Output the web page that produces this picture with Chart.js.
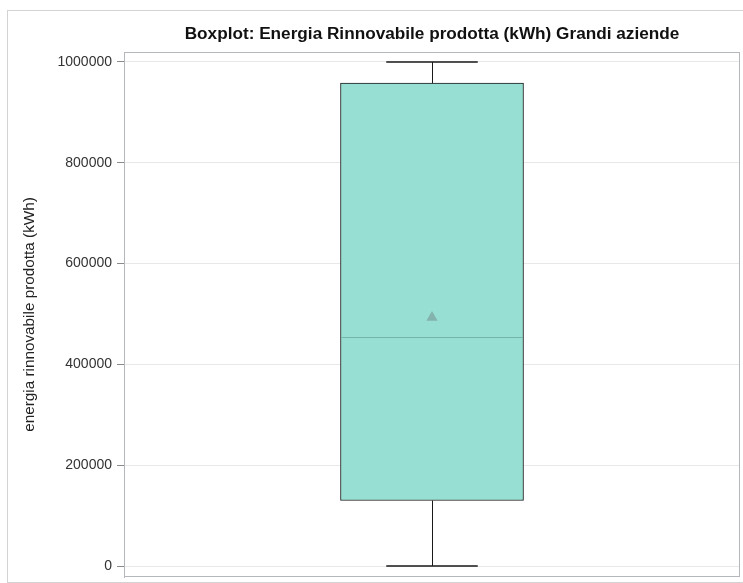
<!DOCTYPE html>
<html>
<head>
<meta charset="utf-8">
<script src="https://cdn.jsdelivr.net/npm/chart.js@4.4.1/dist/chart.umd.min.js"></script>
<style>
  html, body { margin: 0; padding: 0; background: #ffffff; }
  #wrap { position: relative; width: 743px; height: 583px; }
  canvas { display: block; }
</style>
</head>
<body>
<div id="wrap"><canvas id="c" width="743" height="583"></canvas></div>
<script>
// ---- data ----
const categories = ["Grandi aziende"];
const whiskerMin = [0];
const q1 = [130000];
const median = [454000];
const q3 = [958000];
const whiskerMax = [1000000];
const mean = [493000];
const yTicks = [0, 200000, 400000, 600000, 800000, 1000000];

const titleText = "Boxplot: Energia Rinnovabile prodotta (kWh) Grandi aziende";
const yTitleText = "energia rinnovabile prodotta (kWh)";

const FONT = "'Liberation Sans', Arial, sans-serif";

const boxPlugin = {
  id: 'boxExtras',
  beforeDraw(chart) {
    const ctx = chart.ctx;
    ctx.save();
    ctx.strokeStyle = '#d3d3d3';
    ctx.lineWidth = 1;
    ctx.strokeRect(7.5, 10.5, chart.width + 5, chart.height - 11);
    ctx.restore();
  },
  afterDatasetsDraw(chart) {
    const ctx = chart.ctx;
    const x = chart.scales.x, y = chart.scales.y;
    const meta = chart.getDatasetMeta(0);
    ctx.save();
    categories.forEach((c, i) => {
      const bar = meta.data[i];
      const cx = x.getPixelForValue(i);
      const half = bar.width / 2;
      const capHalf = half / 2;
      ctx.strokeStyle = '#1a1a1a';
      ctx.lineWidth = 1;
      const px = Math.round(cx) + 0.5;
      ctx.beginPath();
      ctx.moveTo(px, y.getPixelForValue(q3[i]));
      ctx.lineTo(px, y.getPixelForValue(whiskerMax[i]));
      ctx.moveTo(px, y.getPixelForValue(q1[i]));
      ctx.lineTo(px, y.getPixelForValue(whiskerMin[i]));
      ctx.stroke();
      ctx.lineWidth = 1.5;
      ctx.beginPath();
      const yMax = y.getPixelForValue(whiskerMax[i]);
      const yMin = y.getPixelForValue(whiskerMin[i]);
      ctx.moveTo(cx - capHalf, yMax); ctx.lineTo(cx + capHalf, yMax);
      ctx.moveTo(cx - capHalf, yMin); ctx.lineTo(cx + capHalf, yMin);
      ctx.stroke();
      ctx.strokeStyle = '#74b4aa';
      ctx.lineWidth = 1;
      const ym = Math.round(y.getPixelForValue(median[i])) + 0.5;
      ctx.beginPath();
      ctx.moveTo(cx - half + 1, ym); ctx.lineTo(cx + half - 1, ym);
      ctx.stroke();
    });
    const a = chart.chartArea;
    ctx.strokeStyle = '#b4b8bc';
    ctx.lineWidth = 1;
    ctx.strokeRect(Math.round(a.left) + 0.5, Math.round(a.top) + 0.5, Math.round(a.right - a.left) - 1, Math.round(a.bottom - a.top) - 1);
    ctx.restore();
  }
};

new Chart(document.getElementById('c'), {
  type: 'bar',
  data: {
    labels: categories,
    datasets: [
      {
        type: 'bar',
        data: categories.map((c, i) => [q1[i], q3[i]]),
        backgroundColor: '#98dfd3',
        borderColor: '#1a1a1a',
        borderWidth: 1,
        borderSkipped: false,
        barThickness: 183,
        order: 2
      },
      {
        type: 'line',
        data: mean,
        showLine: false,
        pointStyle: 'triangle',
        pointRadius: 6.5,
        pointBackgroundColor: '#84b2ac',
        pointBorderColor: '#84b2ac',
        pointBorderWidth: 0,
        order: 0
      }
    ]
  },
  options: {
    responsive: false,
    animation: false,
    devicePixelRatio: 1,
    layout: { autoPadding: false, padding: { top: 24, right: 3, bottom: 6, left: 0 } },
    plugins: {
      legend: { display: false },
      tooltip: { enabled: false },
      title: {
        display: true,
        fullSize: false,
        text: titleText,
        color: '#111111',
        font: { family: FONT, size: 17.2, weight: 'bold', lineHeight: 1.2 },
        padding: { top: 0, bottom: 7.36 }
      }
    },
    scales: {
      x: {
        display: false,
        offset: true
      },
      y: {
        min: -21800,
        max: 1019800,
        afterBuildTicks: (axis) => { axis.ticks = yTicks.map(v => ({ value: v })); },
        afterFit: (axis) => { axis.width = 124; axis.paddingTop = 0; axis.paddingBottom = 0; },
        border: { display: true, color: '#b4b8bc' },
        grid: {
          color: '#e8e8e8',
          tickColor: '#8a8a8a',
          tickLength: 7,
          drawTicks: true
        },
        ticks: {
          color: '#333333',
          padding: 5,
          font: { family: FONT, size: 14 },
          callback: (v) => String(v)
        },
        title: {
          display: true,
          text: yTitleText,
          color: '#222222',
          font: { family: FONT, size: 15.3 },
          padding: { top: 21, bottom: 0 }
        }
      }
    }
  },
  plugins: [boxPlugin]
});
</script>
</body>
</html>
